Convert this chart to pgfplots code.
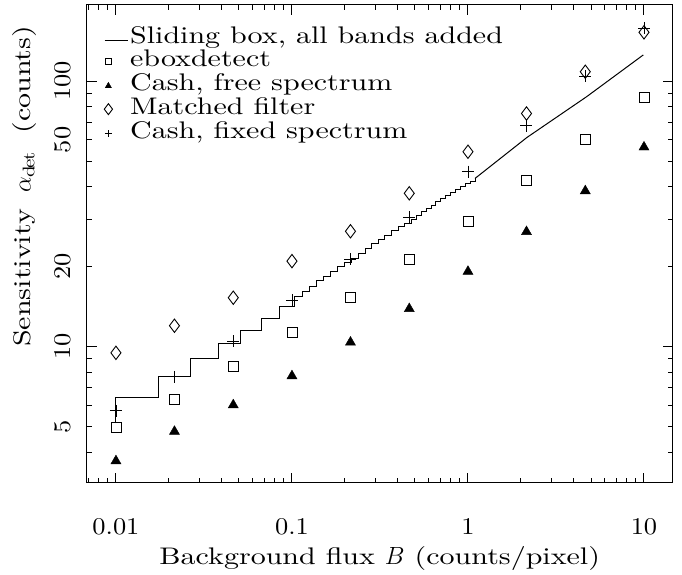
\documentclass[border=0pt]{standalone}
\usepackage{fontspec}
\setmainfont{lmroman10-regular.otf}[FakeStretch=1.25, ItalicFont=lmroman10-italic.otf]
\newfontfamily\tickfont{lmroman10-regular.otf}[FakeStretch=1.1]
\usepackage{pgfplots}
\pgfplotsset{compat=1.18}

\begin{document}
\begin{tikzpicture}[font=\fontsize{24}{28}\selectfont]
\begin{axis}[
  name=ax, scale only axis, width=586pt, height=478pt,
  xmode=log, ymode=log,
  xmin=0.00682, xmax=14.56, ymin=3.08, ymax=193.8,
  xtick={0.01,0.1,1,10}, xticklabels={0.01,0.1,1,10},
  minor xtick={0.007,0.008,0.009,0.02,0.03,0.04,0.05,0.06,0.07,0.08,0.09,
    0.2,0.3,0.4,0.5,0.6,0.7,0.8,0.9,2,3,4,5,6,7,8,9},
  ytick={10,100}, yticklabels={10,100},
  minor ytick={4,5,6,7,8,9,20,30,40,50,60,70,80,90},
  extra y ticks={5,20,60}, extra y tick labels={5,20,50},
  extra y tick style={major tick length=0pt},
  tick align=inside, major tick length=10pt, minor tick length=5pt,
  every tick/.style={black, line width=1pt},
  axis line style={line width=1.2pt},
  tick label style={font=\fontsize{24}{28}\tickfont},
  xticklabel style={anchor=center, yshift=-44pt},
  yticklabel style={anchor=center, xshift=-24pt, rotate=90},
  every axis x label/.style={at={(rel axis cs:0.5,0)}, anchor=center, yshift=-76pt},
  every axis y label/.style={at={(rel axis cs:0,0.62)}, anchor=center, xshift=-62pt, rotate=90},
  xlabel={Background flux $B$ (counts/pixel)},
  ylabel={Sensitivity\hspace{16pt}$\alpha_{\rm det}$\hspace{20pt}(counts)},
  legend cell align=left,
  legend style={at={(0.0295,0.9554)}, anchor=north west, draw=none, fill=none,
    inner sep=0pt, row sep=0pt, column sep=2pt,
    nodes={inner sep=0pt, text height=17pt, text depth=6.7pt}},
]
% sliding box: staircase part
\addplot[const plot, line width=1pt,
  legend image code/.code={\draw[line width=1pt] (0pt,-2.8pt) -- (23pt,-2.8pt);}]
  coordinates {
  (0.0100,5.16) (0.0100,6.43) (0.01754,7.71) (0.02667,9.0) (0.0381,10.3)
  (0.0511,11.5) (0.0673,12.8) (0.0855,14.2) (0.104,15.4)
  (0.1141,16.2) (0.1252,16.9) (0.1373,17.7) (0.1507,18.4) (0.1652,19.2)
  (0.1813,20.0) (0.1989,20.7) (0.2183,21.5)
  (0.2382,22.5) (0.2600,23.4) (0.2838,24.4) (0.3097,25.4) (0.3373,26.3)
  (0.3681,27.3) (0.4018,28.3) (0.4385,29.2) (0.4786,30.2) (0.5105,31.2)
  (0.5433,32.2) (0.5794,33.2) (0.6180,34.1) (0.6577,35.1) (0.7015,36.1)
  (0.7482,37.1) (0.7980,38.1) (0.8492,39.1) (0.9057,40.0) (0.9661,41.0)
  (1.0280,42.0) (1.0965,43.0)};
\addlegendentry{Sliding box, all bands added}
% sliding box: high background part
\addplot[line width=1pt, forget plot] coordinates {
  (1.0965,43.0) (2.16,61.3) (4.72,87.3) (9.91,125.4)};
% eboxdetect
\addplot[only marks, mark=square, mark size=5pt, mark options={line width=0.9pt},
  legend image code/.code={\draw[mark=square, mark size=3pt, line width=0.8pt] plot coordinates {(3.7pt,0pt)};}]
  coordinates {
  (0.01,4.96) (0.0215,6.36) (0.0464,8.41) (0.1,11.3) (0.215,15.4)
  (0.464,21.3) (1,29.7) (2.15,42.4) (4.64,60.4) (10,86.8)};
\addlegendentry{eboxdetect}
% Cash, free spectrum
\addplot[only marks, mark=triangle*, mark size=5.8pt, mark options={fill=black},
  legend image code/.code={\draw[mark=triangle*, mark size=3.6pt, fill=black] plot coordinates {(3.7pt,-0.5pt)};}]
  coordinates {
  (0.01,3.72) (0.0215,4.80) (0.0464,6.04) (0.1,7.77) (0.215,10.4)
  (0.464,13.9) (1,19.2) (2.15,27.1) (4.64,38.6) (10,56.4)};
\addlegendentry{Cash, free spectrum}
% matched filter
\addplot[only marks, mark=diamond, mark size=6.7pt, mark options={line width=0.9pt},
  legend image code/.code={\draw[mark=diamond, mark size=5.5pt, line width=0.8pt] plot coordinates {(3.7pt,0pt)};}]
  coordinates {
  (0.01,9.49) (0.0215,12.0) (0.0464,15.3) (0.1,21.0) (0.215,27.2)
  (0.464,37.8) (1,54.2) (2.15,75.5) (4.64,108.4) (10,152.5)};
\addlegendentry{Matched filter}
% Cash, fixed spectrum
\addplot[only marks, mark=+, mark size=6pt, mark options={line width=0.9pt},
  legend image code/.code={\draw[mark=+, mark size=3.6pt, line width=0.8pt] plot coordinates {(3.7pt,-1pt)};}]
  coordinates {
  (0.01,5.74) (0.0215,7.71) (0.0464,10.5) (0.1,15.0) (0.215,21.4)
  (0.464,30.8) (1,45.6) (2.15,67.8) (4.64,104.4) (10,157.8)};
\addlegendentry{Cash, fixed spectrum}
\end{axis}
\pgfresetboundingbox
\path[use as bounding box] ([xshift=-86.7pt,yshift=-92.3pt]ax.south west)
  rectangle ([xshift=9.3pt,yshift=4.7pt]ax.north east);
\end{tikzpicture}
\end{document}
